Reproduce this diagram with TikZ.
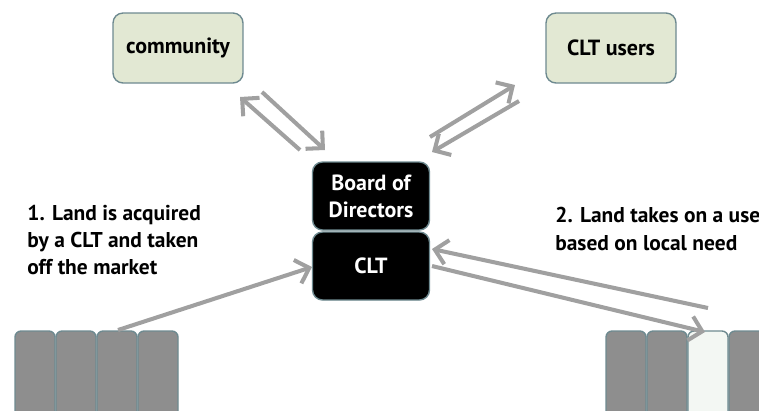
\documentclass[tikz,border=0pt]{standalone}
\usepackage{fontspec}
\setmainfont{PT Sans}
\usetikzlibrary{arrows.meta}

\definecolor{boxfill}{HTML}{E2E8D3}
\definecolor{boxline}{HTML}{6E8A90}
\definecolor{arrowgray}{HTML}{A0A0A0}
\definecolor{lotgray}{HTML}{8E8E8E}
\definecolor{lotwhite}{HTML}{F3F7F3}

\tikzset{
  flow/.style={draw=arrowgray,line width=2.3pt,-{Straight Barb[length=7pt,width=14pt]}},
  note/.style={anchor=west,align=left,inner sep=0pt,font=\bfseries\fontsize{12.2}{15.4}\selectfont}
}

\begin{document}
\begin{tikzpicture}[x=0.02cm,y=-0.02cm]
      \useasboundingbox (0,0) rectangle (759,410);

      \begin{scope}[every node/.style={rectangle,rounded corners=0.2cm,draw=boxline,line width=0.8pt,fill=boxfill,minimum width=2.6cm,minimum height=1.4cm,font=\bfseries\fontsize{12.5}{15}\selectfont}]
        \node (community) at (178,48) {community};
        \node (users) at (611,48) {CLT users};
      \end{scope}

      \begin{scope}[every node/.style={rectangle,rounded corners=0.2cm,draw=boxline,line width=0.8pt,fill=black,text=white,align=center,minimum width=2.34cm,minimum height=1.36cm,font=\bfseries\fontsize{12.5}{15.4}\selectfont}]
        \node (board) at (371,196) {Board of\\Directors};
        \node (clt) at (371,266) {CLT};
      \end{scope}

      \begin{scope}[every node/.style={rectangle,rounded corners=0.12cm,draw=boxline,line width=0.8pt,fill=lotgray,minimum width=0.8cm,minimum height=2cm}]
        \node (a1) at (35,381) {};
        \node (a2) at (76,381) {};
        \node (a3) at (117,381) {};
        \node (a4) at (158,381) {};
        \node (b1) at (626,381) {};
        \node (b2) at (667,381) {};
        \node[fill=lotwhite] (b3) at (708,381) {};
        \node (b4) at (749,381) {};
      \end{scope}

      \node[note] (first) at (27,240) {1. Land is acquired\\by a CLT and taken\\off the market};
      \node[note] (second) at (555,229) {2. Land takes on a use\\based on local need};

      % ends of the arrow pairs
      \coordinate (c1) at (300,150);
      \coordinate (c2) at (240,97);
      \coordinate (c3) at (262,92);
      \coordinate (c4) at (325,150);
      \coordinate (u1) at (430,137);
      \coordinate (u2) at (515,85);
      \coordinate (u3) at (519,101);
      \coordinate (u4) at (432,152);
      \coordinate (l1) at (118,330);
      \coordinate (l2) at (312,267);
      \coordinate (r1) at (708,308);
      \coordinate (r2) at (432,249);
      \coordinate (r3) at (432,266);
      \coordinate (r4) at (705,332);

      \begin{scope}[every edge/.style={flow}]
        \path (c1) edge (c2);
        \path (c3) edge (c4);
        \path (u1) edge (u2);
        \path (u3) edge (u4);
        \path (l1) edge (l2);
        \path (r1) edge (r2);
        \path (r3) edge (r4);
      \end{scope}

    \end{tikzpicture}
\end{document}
